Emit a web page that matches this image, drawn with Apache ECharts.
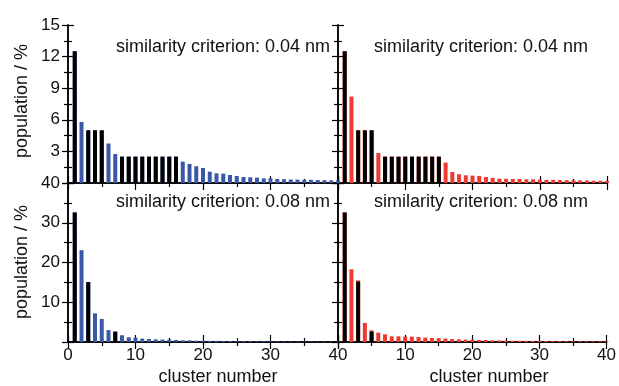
<!DOCTYPE html>
<html>
<head>
  <meta charset="utf-8">
  <title>cluster population</title>
  <script src="https://cdn.jsdelivr.net/npm/echarts/dist/echarts.min.js"></script>
  <style>
    html, body { margin: 0; padding: 0; background: #fff; }
    #chart { width: 619px; height: 386px; }
  </style>
</head>
<body>
  <div id="chart"></div>
  <script>
    // cluster numbers 1..40
    var clusters = [1, 2, 3, 4, 5, 6, 7, 8, 9, 10, 11, 12, 13, 14, 15, 16, 17, 18, 19, 20,
      21, 22, 23, 24, 25, 26, 27, 28, 29, 30, 31, 32, 33, 34, 35, 36, 37, 38, 39, 40];

    // 0.04 nm, left (blue)
    var blue004 = [12.5, 5.8, 5.0, 5.0, 5.0, 3.75, 2.75, 2.5, 2.5, 2.5,
      2.5, 2.5, 2.5, 2.5, 2.5, 2.5, 2.03, 1.81, 1.59, 1.43,
      1.08, 0.92, 0.89, 0.76, 0.67, 0.57, 0.54, 0.51, 0.44, 0.44,
      0.38, 0.36, 0.33, 0.32, 0.30, 0.30, 0.28, 0.27, 0.25, 0.25];
    var blackX004L = [1, 3, 4, 5, 8, 9, 10, 11, 12, 13, 14, 15, 16];
    var blackY004L = [12.5, 5.0, 5.0, 5.0, 2.5, 2.5, 2.5, 2.5, 2.5, 2.5, 2.5, 2.5, 2.5];

    // 0.04 nm, right (red)
    var red004 = [12.5, 8.2, 5.0, 5.0, 5.0, 2.85, 2.5, 2.5, 2.5, 2.5,
      2.5, 2.5, 2.5, 2.5, 2.5, 1.94, 1.05, 0.83, 0.73, 0.70,
      0.67, 0.57, 0.48, 0.41, 0.40, 0.38, 0.38, 0.35, 0.35, 0.33,
      0.30, 0.30, 0.28, 0.27, 0.26, 0.25, 0.24, 0.22, 0.22, 0.20];
    var blackX004R = [1, 3, 4, 5, 7, 8, 9, 10, 11, 12, 13, 14, 15];
    var blackY004R = [12.5, 5.0, 5.0, 5.0, 2.5, 2.5, 2.5, 2.5, 2.5, 2.5, 2.5, 2.5, 2.5];

    // 0.08 nm, left (blue)
    var blue008 = [32.6, 23.1, 15.1, 7.2, 5.8, 3.0, 2.6, 1.7, 1.2, 1.1,
      0.85, 0.76, 0.67, 0.6, 0.6, 0.5, 0.42, 0.42, 0.34, 0.34,
      0.3, 0.28, 0.26, 0.25, 0.24, 0.22, 0.2, 0.2, 0.18, 0.17,
      0.15, 0.14, 0.13, 0.12, 0.12, 0.11, 0.1, 0.1, 0.1, 0.1];
    var blackX008L = [1, 3, 7];
    var blackY008L = [32.6, 15.1, 2.6];

    // 0.08 nm, right (red)
    var red008 = [32.6, 18.3, 15.5, 4.8, 2.95, 2.36, 1.94, 1.43, 1.43, 1.35,
      1.35, 1.26, 1.1, 1.0, 0.95, 0.84, 0.76, 0.67, 0.59, 0.59,
      0.5, 0.5, 0.42, 0.42, 0.34, 0.32, 0.3, 0.3, 0.28, 0.28,
      0.25, 0.24, 0.22, 0.2, 0.2, 0.2, 0.18, 0.18, 0.17, 0.17];
    var blackX008R = [1, 3, 5];
    var blackY008R = [32.6, 15.2, 2.6];

    var panelTitles = ['similarity criterion: 0.04 nm', 'similarity criterion: 0.08 nm'];
    var yName = 'population / %';
    var xName = 'cluster number';

    var BLUE = '#3b58a8';
    var RED = '#ee3a31';
    var FONT = "'Liberation Sans', Arial, Helvetica, sans-serif";

    function pairs(xs, ys) {
      return xs.map(function (x, i) { return [x, ys[i]]; });
    }

    var grids = [
      { left: 68, top: 25, width: 270, height: 158 },
      { left: 338, top: 25, width: 269, height: 158 },
      { left: 68, top: 183, width: 270, height: 159 },
      { left: 338, top: 183, width: 269, height: 159 }
    ];

    var lineStyle = { color: '#000', width: 1.5 };

    function xAx(g, pos, showLabel, hideZero) {
      return {
        type: 'value', gridIndex: g, position: pos, min: 0, max: 40, interval: 10,
        axisLine: { show: true, lineStyle: lineStyle },
        axisTick: { show: true, inside: true, length: 7, lineStyle: { color: '#000', width: 1.2 } },
        minorTick: { show: true, splitNumber: 2, length: 4, lineStyle: { color: '#000', width: 1.2 } },
        splitLine: { show: false },
        axisLabel: {
          show: showLabel, margin: 5, color: '#111', fontSize: 17, fontFamily: FONT,
          formatter: function (v) { return (hideZero && v === 0) ? '' : v; }
        }
      };
    }

    function yAx(g, pos, max, step, showLabel) {
      return {
        type: 'value', gridIndex: g, position: pos, min: 0, max: max, interval: step,
        axisLine: { show: true, lineStyle: lineStyle },
        axisTick: { show: true, inside: true, length: 6, lineStyle: { color: '#000', width: 1.2 } },
        minorTick: { show: true, splitNumber: 2, length: 4, lineStyle: { color: '#000', width: 1.2 } },
        splitLine: { show: false },
        axisLabel: {
          show: showLabel, margin: 8, color: '#111', fontSize: 17, fontFamily: FONT,
          formatter: function (v) { return v === 0 ? '' : v; }
        }
      };
    }

    function barSeries(g, data, color) {
      return {
        type: 'bar', xAxisIndex: g, yAxisIndex: g, data: data,
        barWidth: 4, barGap: '-100%', itemStyle: { color: color },
        silent: true, animation: false
      };
    }

    function text(x, y, str, align, rot) {
      return {
        type: 'text', x: x, y: y, rotation: rot || 0,
        style: {
          text: str, fill: '#111', fontSize: 18, fontFamily: FONT,
          align: align, verticalAlign: 'middle'
        }
      };
    }

    var chart = echarts.init(document.getElementById('chart'), null, { renderer: 'canvas' });
    var option = {
      backgroundColor: '#fff',
      animation: false,
      grid: grids,
      xAxis: [
        xAx(0, 'bottom', false, false), xAx(1, 'bottom', false, false),
        xAx(2, 'bottom', true, false), xAx(3, 'bottom', true, true),
        xAx(0, 'top', false, false), xAx(1, 'top', false, false),
        xAx(2, 'top', false, false), xAx(3, 'top', false, false)
      ],
      yAxis: [
        yAx(0, 'left', 15, 3, true), yAx(1, 'left', 15, 3, false),
        yAx(2, 'left', 40, 10, true), yAx(3, 'left', 40, 10, false),
        yAx(0, 'right', 15, 3, false), yAx(1, 'right', 15, 3, false),
        yAx(2, 'right', 40, 10, false), yAx(3, 'right', 40, 10, false)
      ],
      series: [
        barSeries(0, pairs(clusters, blue004), BLUE),
        barSeries(0, pairs(blackX004L, blackY004L), '#000'),
        barSeries(1, pairs(clusters, red004), RED),
        barSeries(1, pairs(blackX004R, blackY004R), '#000'),
        barSeries(2, pairs(clusters, blue008), BLUE),
        barSeries(2, pairs(blackX008L, blackY008L), '#000'),
        barSeries(3, pairs(clusters, red008), RED),
        barSeries(3, pairs(blackX008R, blackY008R), '#000')
      ],
      graphic: [
        text(330, 47, panelTitles[0], 'right'),
        text(588, 47, panelTitles[0], 'right'),
        text(330, 202, panelTitles[1], 'right'),
        text(588, 202, panelTitles[1], 'right'),
        text(22, 101, yName, 'center', Math.PI / 2),
        text(22, 262, yName, 'center', Math.PI / 2),
        text(218, 377, xName, 'center'),
        text(489, 377, xName, 'center')
      ]
    };
    chart.setOption(option);
  </script>
</body>
</html>
